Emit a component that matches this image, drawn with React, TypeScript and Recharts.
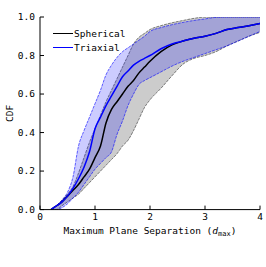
import { ComposedChart, Area, Line, XAxis, YAxis, Legend } from "recharts";

const title = "ESO324-024";
const seriesNames = ["Spherical", "Triaxial"];
const xTicks = [0, 1, 2, 3, 4];
const yTicks = [0, 0.2, 0.4, 0.6, 0.8, 1.0];

// separation in units of d_max
const xs = [0.2, 0.3, 0.4, 0.5, 0.6, 0.7, 0.8, 0.9, 1.0, 1.1, 1.2, 1.3, 1.4, 1.5, 1.6, 1.7, 1.8, 1.9, 2.0, 2.2, 2.4, 2.6, 2.8, 3.0, 3.2, 3.4, 3.6, 3.8, 4.0];

const sphMed = [0.0, 0.02, 0.04, 0.07, 0.10, 0.13, 0.17, 0.21, 0.27, 0.33, 0.45, 0.52, 0.56, 0.60, 0.64, 0.67, 0.71, 0.74, 0.77, 0.82, 0.855, 0.875, 0.89, 0.90, 0.915, 0.935, 0.945, 0.955, 0.966];
const sphLo = [0.0, 0.0, 0.02, 0.04, 0.06, 0.08, 0.11, 0.14, 0.17, 0.20, 0.23, 0.26, 0.29, 0.33, 0.36, 0.41, 0.47, 0.53, 0.57, 0.63, 0.695, 0.755, 0.785, 0.80, 0.82, 0.85, 0.875, 0.90, 0.92];
const sphHi = [0.0, 0.02, 0.05, 0.08, 0.12, 0.19, 0.27, 0.35, 0.42, 0.49, 0.56, 0.62, 0.68, 0.74, 0.80, 0.86, 0.895, 0.915, 0.935, 0.955, 0.97, 0.982, 0.993, 1.0, 1.0, 1.0, 1.0, 1.0, 1.0];

const triMed = [0.0, 0.02, 0.04, 0.07, 0.11, 0.16, 0.22, 0.30, 0.42, 0.48, 0.54, 0.59, 0.64, 0.69, 0.72, 0.75, 0.77, 0.785, 0.80, 0.835, 0.86, 0.875, 0.89, 0.90, 0.915, 0.935, 0.945, 0.955, 0.966];
const triLo = [0.0, 0.0, 0.01, 0.03, 0.06, 0.09, 0.13, 0.17, 0.21, 0.24, 0.27, 0.30, 0.39, 0.46, 0.54, 0.60, 0.65, 0.67, 0.685, 0.715, 0.745, 0.77, 0.79, 0.81, 0.83, 0.85, 0.875, 0.90, 0.925];
const triHi = [0.0, 0.02, 0.05, 0.09, 0.17, 0.33, 0.41, 0.48, 0.55, 0.62, 0.70, 0.75, 0.79, 0.82, 0.84, 0.86, 0.88, 0.90, 0.925, 0.945, 0.96, 0.972, 0.982, 0.99, 0.998, 1.0, 1.0, 1.0, 1.0];

const data = xs.map((x, i) => ({
  x,
  sphMed: sphMed[i],
  sphBand: [sphLo[i], sphHi[i]],
  triMed: triMed[i],
  triBand: [triLo[i], triHi[i]],
}));

const FONT = '"DejaVu Sans Mono", monospace';
const tickStyle = { fontSize: 9.5, fill: "#000", fontFamily: FONT };

const LegendBox = () => (
  <div style={{ fontFamily: FONT, fontSize: 9.5, lineHeight: "13.7px" }}>
    {seriesNames.map((n, i) => (
      <div key={n} style={{ display: "flex", alignItems: "center" }}>
        <span style={{ display: "inline-block", width: 20, height: 0, borderTop: `1.5px solid ${i === 0 ? "#000" : "#0000ff"}`, marginRight: 1 }} />
        <span>{n}</span>
      </div>
    ))}
  </div>
);

export default function App() {
  return (
    <div style={{ width: 266, height: 267, background: "#fff" }}>
      <style>{`body{margin:0}`}</style>
      <ComposedChart width={266} height={267} data={data} margin={{ top: 17, right: 6, left: 0, bottom: 0 }}>
        <XAxis
          dataKey="x"
          type="number"
          domain={[0, 4]}
          ticks={xTicks}
          allowDataOverflow
          height={30}
          tickSize={-4}
          tickMargin={8}
          tick={tickStyle}
          stroke="#000"
          label={(p: any) => {
            const vb = p.viewBox;
            return (
              <text x={vb.x + vb.width / 2} y={vb.y + 24} textAnchor="middle" fontFamily={FONT} fontSize={9.5} fill="#000">
                Maximum Plane Separation (<tspan fontStyle="italic">d</tspan>
                <tspan fontSize={7} dy={2}>max</tspan>
                <tspan dy={-2}>)</tspan>
              </text>
            );
          }}
        />
        <XAxis
          xAxisId="top"
          orientation="top"
          type="number"
          domain={[0, 4]}
          ticks={xTicks}
          height={0}
          tickSize={-4}
          tick={false}
          stroke="#000"
          label={(p: any) => {
            const vb = p.viewBox;
            return (
              <text x={vb.x + vb.width / 2} y={12.7} textAnchor="middle" fontFamily={FONT} fontSize={11.7} fill="#000">
                {title}
              </text>
            );
          }}
        />
        <YAxis
          type="number"
          domain={[0, 1]}
          ticks={yTicks}
          allowDataOverflow
          width={40}
          tickSize={-4}
          tickMargin={9}
          tick={tickStyle}
          tickFormatter={(v: number) => v.toFixed(1)}
          stroke="#000"
          label={(p: any) => {
            const vb = p.viewBox;
            const cy = vb.y + vb.height / 2;
            return (
              <text x={13} y={cy} textAnchor="middle" transform={`rotate(-90 13 ${cy})`} fontFamily={FONT} fontSize={9.5} fill="#000">
                CDF
              </text>
            );
          }}
        />
        <YAxis
          yAxisId="right"
          orientation="right"
          type="number"
          domain={[0, 1]}
          ticks={yTicks}
          width={0}
          tickSize={-4}
          tick={false}
          stroke="#000"
        />
        <Area
          type="monotone"
          dataKey="sphBand"
          fill="#cccccc"
          fillOpacity={1}
          stroke="#333"
          strokeWidth={0.6}
          strokeDasharray="3 1"
          legendType="none"
          isAnimationActive={false}
        />
        <Area
          type="monotone"
          dataKey="triBand"
          fill="#0000ff"
          fillOpacity={0.2}
          stroke="#0000ff"
          strokeWidth={0.6}
          strokeDasharray="3 1"
          legendType="none"
          isAnimationActive={false}
        />
        <Line type="monotone" dataKey="sphMed" name={seriesNames[0]} stroke="#000" strokeWidth={1.5} dot={false} isAnimationActive={false} />
        <Line type="monotone" dataKey="triMed" name={seriesNames[1]} stroke="#0000ff" strokeWidth={1.5} dot={false} isAnimationActive={false} />
        <Legend content={<LegendBox />} wrapperStyle={{ top: 27, left: 53, width: "auto" }} />
      </ComposedChart>
    </div>
  );
}
